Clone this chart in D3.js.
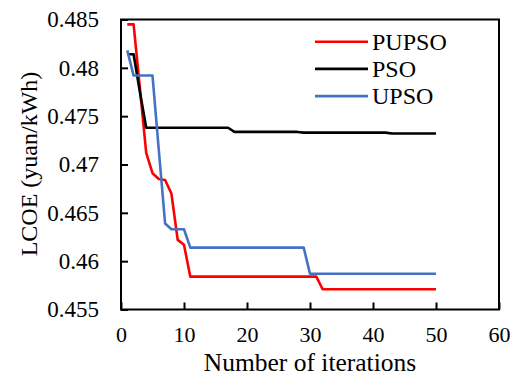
<!DOCTYPE html>
<html><head><meta charset="utf-8">
<script src="https://cdn.jsdelivr.net/npm/d3@7"></script>
<style>html,body{margin:0;padding:0;background:#fff;}svg{display:block;}
svg text{font-family:"Liberation Serif","Times New Roman",Times,"DejaVu Serif",serif;}</style>
</head><body>
<svg id="chart" width="511" height="376"></svg>
<script>
const iterations = d3.range(1, 51);
const pupso = [0.4845,0.4845,0.4779,0.4712,0.4691,0.4685,0.4684,0.4670,0.4622,0.4617,
  0.4584,0.4584,0.4584,0.4584,0.4584,0.4584,0.4584,0.4584,0.4584,0.4584,
  0.4584,0.4584,0.4584,0.4584,0.4584,0.4584,0.4584,0.4584,0.4584,0.4584,
  0.4584,0.4571,0.4571,0.4571,0.4571,0.4571,0.4571,0.4571,0.4571,0.4571,
  0.4571,0.4571,0.4571,0.4571,0.4571,0.4571,0.4571,0.4571,0.4571,0.4571];
const pso = [0.4814,0.4814,0.4775,0.4738,0.4738,0.4738,0.4738,0.4738,0.4738,0.4738,
  0.4738,0.4738,0.4738,0.4738,0.4738,0.4738,0.4738,0.47337,0.47337,0.47337,
  0.47337,0.47337,0.47337,0.47337,0.47337,0.47337,0.47337,0.47337,0.4733,0.4733,
  0.4733,0.4733,0.4733,0.4733,0.4733,0.4733,0.4733,0.4733,0.4733,0.4733,
  0.4733,0.4733,0.4732,0.4732,0.4732,0.4732,0.4732,0.4732,0.4732,0.4732];
const upso = [0.4818,0.4792,0.4792,0.4792,0.4792,0.4715,0.4639,0.4633,0.4633,0.4633,
  0.4614,0.4614,0.4614,0.4614,0.4614,0.4614,0.4614,0.4614,0.4614,0.4614,
  0.4614,0.4614,0.4614,0.4614,0.4614,0.4614,0.4614,0.4614,0.4614,0.4587,
  0.4587,0.4587,0.4587,0.4587,0.4587,0.4587,0.4587,0.4587,0.4587,0.4587,
  0.4587,0.4587,0.4587,0.4587,0.4587,0.4587,0.4587,0.4587,0.4587,0.4587];
const seriesNames = ["PUPSO", "PSO", "UPSO"];
const seriesColors = ["#ff0000", "#000000", "#4472c4"];
const xTicks = [0, 10, 20, 30, 40, 50, 60];
const yTicks = [0.455, 0.46, 0.465, 0.47, 0.475, 0.48, 0.485];
const yTickLabels = ["0.455", "0.46", "0.465", "0.47", "0.475", "0.48", "0.485"];
const xTitle = "Number of iterations";
const yTitle = "LCOE (yuan/kWh)";

const svg = d3.select("#chart");
const m = {left: 121, top: 19.5, right: 499, bottom: 309.5};
const x = d3.scaleLinear().domain([0, 60]).range([m.left, m.right]);
const y = d3.scaleLinear().domain([0.455, 0.485]).range([m.bottom, m.top]);
const font = '"Liberation Serif","Times New Roman",Times,"DejaVu Serif",serif';

// frame
svg.append("rect").attr("x", m.left).attr("y", m.top)
  .attr("width", m.right - m.left).attr("height", m.bottom - m.top)
  .attr("fill", "none").attr("stroke", "#000").attr("stroke-width", 2);

// x axis
const xa = svg.append("g").attr("transform", `translate(0,${m.bottom})`)
  .call(d3.axisBottom(x).tickValues(xTicks).tickSize(-7).tickPadding(17).tickFormat(d3.format("d")));
xa.attr("font-family", null).attr("font-size", null);
xa.select(".domain").remove();
xa.selectAll("line").attr("stroke", "#000").attr("stroke-width", 2);
xa.selectAll("text").style("font-family", font).style("font-size", "22px").attr("fill", "#000");

// y axis
const ya = svg.append("g").attr("transform", `translate(${m.left},0)`)
  .call(d3.axisLeft(y).tickValues(yTicks).tickSize(-7).tickPadding(22).tickFormat((d, i) => yTickLabels[i]));
ya.attr("font-family", null).attr("font-size", null);
ya.select(".domain").remove();
ya.selectAll("line").attr("stroke", "#000").attr("stroke-width", 2);
ya.selectAll("text").style("font-family", font).style("font-size", "23px").attr("fill", "#000");

// lines
const data = [pupso, pso, upso];
const line = d3.line().x((d, i) => x(iterations[i])).y(d => y(d));
data.forEach((s, k) => {
  svg.append("path").datum(s).attr("d", line)
    .attr("fill", "none").attr("stroke", seriesColors[k]).attr("stroke-width", 2.6)
    .attr("stroke-linejoin", "round");
});

// legend
const lg = svg.append("g");
seriesNames.forEach((n, k) => {
  const yy = 41.7 + k * 27.2;
  lg.append("line").attr("x1", 315).attr("x2", 368).attr("y1", yy).attr("y2", yy)
    .attr("stroke", seriesColors[k]).attr("stroke-width", 2.6);
  lg.append("text").attr("x", 372).attr("y", yy + 7.8).text(n)
    .style("font-family", font).style("font-size", "24px").attr("fill", "#000");
});

// axis titles
svg.append("text").attr("x", 310).attr("y", 371).attr("text-anchor", "middle")
  .style("font-family", font).style("font-size", "25.5px").attr("fill", "#000").text(xTitle);
svg.append("text").attr("transform", "translate(37,164) rotate(-90)").attr("text-anchor", "middle")
  .style("font-family", font).style("font-size", "24px").attr("fill", "#000").text(yTitle);
</script>
</body></html>
